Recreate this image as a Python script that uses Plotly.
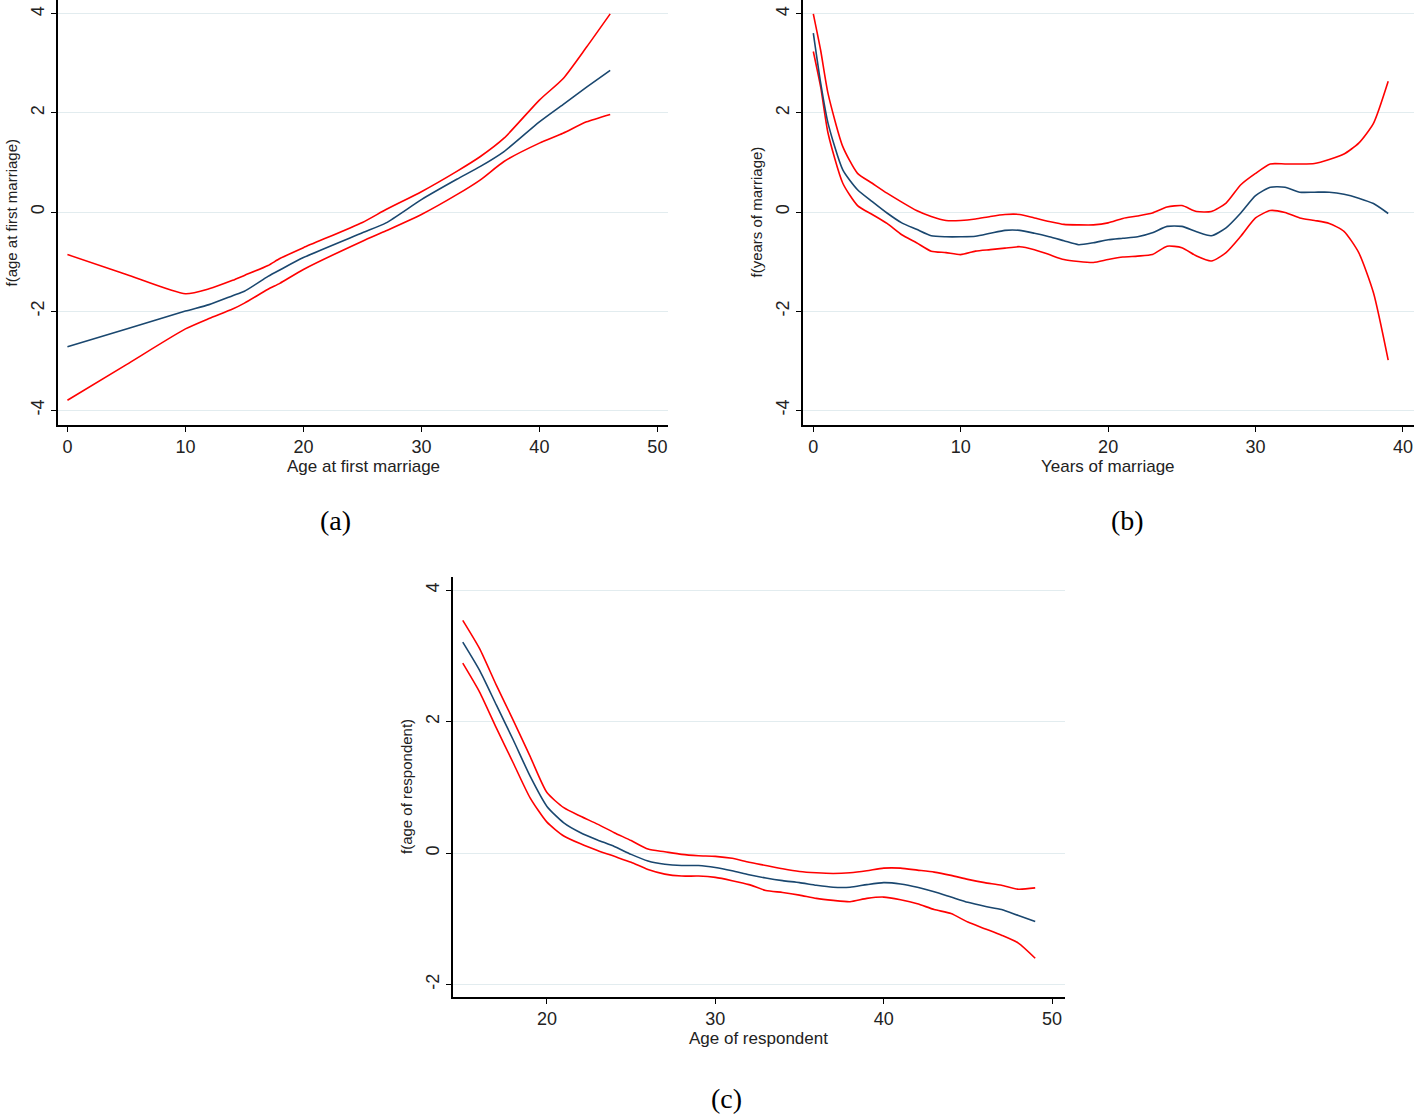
import plotly.graph_objects as go

# ---------------- Data ----------------
# (a) Age at first marriage
a_x = [0, 5, 10, 12, 14, 15, 17, 18, 20, 25, 27, 30, 33, 35, 37, 40, 42, 44, 46]
a_mid = [-2.72, -2.36, -2.0, -1.87, -1.69, -1.6, -1.3, -1.17, -0.92, -0.42, -0.22, 0.25, 0.66, 0.92, 1.22, 1.82, 2.17, 2.52, 2.86]
a_up = [-0.86, -1.26, -1.65, -1.55, -1.38, -1.28, -1.08, -0.94, -0.72, -0.21, 0.05, 0.41, 0.82, 1.12, 1.49, 2.26, 2.69, 3.33, 4.0]
a_lo = [-3.8, -3.08, -2.36, -2.15, -1.96, -1.84, -1.56, -1.44, -1.16, -0.59, -0.38, -0.05, 0.35, 0.65, 1.02, 1.39, 1.59, 1.82, 1.97]

# (b) Years of marriage
b_x = [0, 0.5, 1, 2, 3, 4, 5, 6, 7, 8, 9, 10, 11, 12, 13, 14, 15, 16, 17, 18, 19, 20, 21, 22, 23, 24, 25, 26, 27, 28, 29, 30, 31, 32, 33, 34, 35, 36, 37, 38, 39]
b_mid = [3.61, 2.6, 1.79, 0.85, 0.45, 0.21, -0.02, -0.22, -0.35, -0.48, -0.5, -0.5, -0.49, -0.43, -0.37, -0.37, -0.43, -0.5, -0.58, -0.66, -0.62, -0.56, -0.53, -0.5, -0.42, -0.29, -0.29, -0.4, -0.48, -0.32, -0.02, 0.33, 0.5, 0.5, 0.4, 0.4, 0.4, 0.36, 0.28, 0.17, -0.03]
b_up = [4.0, 3.26, 2.39, 1.32, 0.78, 0.58, 0.38, 0.2, 0.03, -0.09, -0.17, -0.17, -0.14, -0.09, -0.05, -0.05, -0.12, -0.19, -0.25, -0.26, -0.26, -0.22, -0.13, -0.08, -0.02, 0.1, 0.13, 0.01, 0.01, 0.18, 0.55, 0.78, 0.97, 0.97, 0.97, 0.98, 1.06, 1.17, 1.39, 1.79, 2.64]
b_lo = [3.24, 2.52, 1.59, 0.58, 0.13, -0.05, -0.23, -0.46, -0.62, -0.79, -0.82, -0.86, -0.79, -0.76, -0.73, -0.7, -0.76, -0.86, -0.96, -1.0, -1.02, -0.96, -0.91, -0.89, -0.86, -0.69, -0.72, -0.89, -0.99, -0.82, -0.49, -0.12, 0.03, -0.01, -0.12, -0.17, -0.23, -0.39, -0.82, -1.63, -2.99]

# (c) Age of respondent
c_x = list(range(15, 50))
c_mid = [3.21, 2.78, 2.25, 1.72, 1.17, 0.71, 0.46, 0.31, 0.2, 0.1, -0.02, -0.12, -0.17, -0.19, -0.19, -0.22, -0.27, -0.33, -0.38, -0.42, -0.45, -0.49, -0.52, -0.52, -0.48, -0.45, -0.47, -0.52, -0.59, -0.67, -0.75, -0.81, -0.86, -0.95, -1.04]
c_up = [3.54, 3.11, 2.55, 2.02, 1.47, 0.92, 0.69, 0.56, 0.44, 0.31, 0.19, 0.06, 0.02, -0.02, -0.04, -0.05, -0.08, -0.14, -0.19, -0.24, -0.28, -0.3, -0.31, -0.3, -0.27, -0.23, -0.23, -0.26, -0.29, -0.34, -0.4, -0.45, -0.49, -0.55, -0.53]
c_lo = [2.89, 2.45, 1.9, 1.37, 0.84, 0.47, 0.26, 0.14, 0.04, -0.05, -0.14, -0.25, -0.32, -0.35, -0.35, -0.37, -0.42, -0.48, -0.57, -0.6, -0.64, -0.69, -0.72, -0.74, -0.69, -0.67, -0.71, -0.77, -0.86, -0.92, -1.05, -1.15, -1.25, -1.37, -1.6]

x_titles = ["Age at first marriage", "Years of marriage", "Age of respondent"]
y_titles = ["f(age at first marriage)", "f(years of marriage)", "f(age of respondent)"]
captions = ["(a)", "(b)", "(c)"]

# ---------------- Figure ----------------
W, H = 1416, 1116
RED = "#ff0000"
BLUE = "#1a476f"
GRID = "#e2ecef"
TICKFONT = dict(family="Liberation Sans Narrow, Arial Narrow, Liberation Sans, Arial", size=18, color="#222")
TITLEFONT = dict(family="Liberation Sans Narrow, Arial Narrow, Liberation Sans, Arial", size=17, color="#222")

fig = go.Figure()

panels = [
    dict(x=a_x, mid=a_mid, up=a_up, lo=a_lo, xr=[-0.8, 50.9], yr=[-4.3, 4.28],
         px=(58, 668), py=(0, 425), xt=[0, 10, 20, 30, 40, 50], yt=[-4, -2, 0, 2, 4], tcx=363),
    dict(x=b_x, mid=b_mid, up=b_up, lo=b_lo, xr=[-0.7, 40.75], yr=[-4.3, 4.28],
         px=(803, 1414), py=(0, 425), xt=[0, 10, 20, 30, 40], yt=[-4, -2, 0, 2, 4], tcx=1108),
    dict(x=c_x, mid=c_mid, up=c_up, lo=c_lo, xr=[14.42, 50.77], yr=[-2.19, 4.2],
         px=(453, 1065), py=(577, 997), xt=[20, 30, 40, 50], yt=[-2, 0, 2, 4], tcx=758),
]

for i, p in enumerate(panels):
    sfx = "" if i == 0 else str(i + 1)
    xa, ya = "x" + sfx, "y" + sfx
    for ys, col in [(p["up"], RED), (p["lo"], RED), (p["mid"], BLUE)]:
        fig.add_trace(go.Scatter(x=p["x"], y=ys, mode="lines", xaxis=xa, yaxis=ya,
                                 line=dict(color=col, width=1.6, shape="spline", smoothing=0.6),
                                 showlegend=False, hoverinfo="skip"))
    xdom = [p["px"][0] / W, p["px"][1] / W]
    ydom = [1 - p["py"][1] / H, 1 - p["py"][0] / H]
    fig.layout["xaxis" + sfx] = dict(
        domain=xdom, range=p["xr"], anchor=ya, tickvals=p["xt"],
        ticktext=[str(v) for v in p["xt"]], ticks="outside", automargin=False,
        ticklen=5, tickcolor="#000", showline=True, linecolor="#000", linewidth=1.5,
        showgrid=False, zeroline=False, tickfont=TICKFONT)
    fig.layout["yaxis" + sfx] = dict(
        domain=ydom, range=p["yr"], anchor=xa, tickvals=p["yt"],
        ticktext=[str(v) for v in p["yt"]], ticks="outside", automargin=False,
        ticklen=5, tickcolor="#000", showline=True, linecolor="#000", linewidth=1.5,
        showgrid=True, gridcolor=GRID, gridwidth=1, zeroline=False, tickangle=-90,
        tickfont=TICKFONT)
    # axis titles
    fig.add_annotation(text=x_titles[i], xref="paper", yref="paper",
                       x=p["tcx"] / W, y=1 - (p["py"][1] + 41) / H, showarrow=False,
                       font=TITLEFONT, xanchor="center", yanchor="middle")
    fig.add_annotation(text=y_titles[i], xref="paper", yref="paper",
                       x=(p["px"][0] - 47) / W, y=1 - (p["py"][0] + p["py"][1]) / 2 / H,
                       showarrow=False, textangle=-90,
                       font=dict(family="Liberation Sans, Arial", size=15, color="#222"),
                       xanchor="center", yanchor="middle")

cap_pos = [(335, 520), (1127, 520), (726, 1098)]
for txt, (cx, cy) in zip(captions, cap_pos):
    fig.add_annotation(text=txt, xref="paper", yref="paper", x=cx / W, y=1 - cy / H,
                       showarrow=False,
                       font=dict(family="Liberation Serif, Times New Roman", size=28, color="#000"),
                       xanchor="center", yanchor="middle")

fig.update_layout(width=W, height=H, margin=dict(l=0, r=0, t=0, b=0),
                  paper_bgcolor="white", plot_bgcolor="white")

fig.write_html("out.html", config={"displayModeBar": False},
               post_script="document.body.style.margin='0px';document.body.style.overflow='hidden';")
